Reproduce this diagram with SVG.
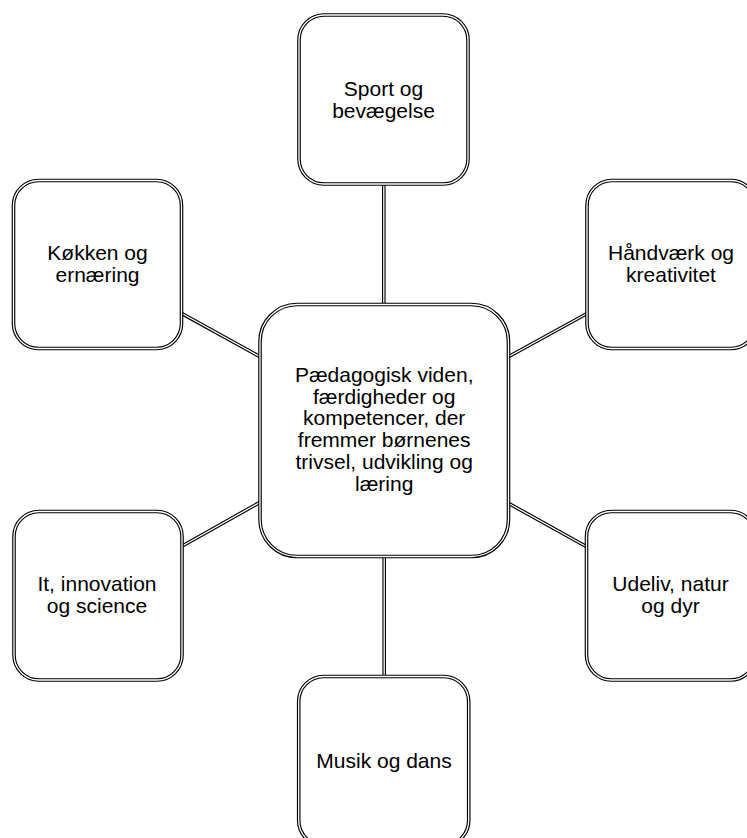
<svg xmlns="http://www.w3.org/2000/svg" width="747" height="838" viewBox="0 0 747 838">
<style>
.bo{fill:#fff;stroke:#000;stroke-width:3.6}
.bi{fill:none;stroke:#fff;stroke-width:1.3}
.co{stroke:#000;stroke-width:3.6;fill:none}
.ci{stroke:#fff;stroke-width:1.3;fill:none}
text{font-family:"Liberation Sans",Arial,sans-serif;font-size:21px;fill:#000;text-anchor:middle}
</style>
<rect width="747" height="838" fill="#fff"/>
<g id="connectors">
<line class="co" x1="383.8" y1="184" x2="383.8" y2="305"/><line class="ci" x1="383.8" y1="184" x2="383.8" y2="305"/>
<line class="co" x1="384.2" y1="556" x2="384.2" y2="677"/><line class="ci" x1="384.2" y1="556" x2="384.2" y2="677"/>
<line class="co" x1="180.5" y1="312.8" x2="260.5" y2="357"/><line class="ci" x1="180.5" y1="312.8" x2="260.5" y2="357"/>
<line class="co" x1="508" y1="357" x2="588" y2="313"/><line class="ci" x1="508" y1="357" x2="588" y2="313"/>
<line class="co" x1="180.5" y1="547" x2="260.5" y2="502"/><line class="ci" x1="180.5" y1="547" x2="260.5" y2="502"/>
<line class="co" x1="508" y1="503" x2="588" y2="547.5"/><line class="ci" x1="508" y1="503" x2="588" y2="547.5"/>
</g>
<g id="center">
<rect class="bo" x="260" y="304.5" width="248.5" height="252" rx="37"/>
<rect class="bi" x="260" y="304.5" width="248.5" height="252" rx="37"/>
<text x="384.2" y="381.7">Pædagogisk viden,</text>
<text x="384.2" y="403.5">færdigheder og</text>
<text x="384.2" y="425.3">kompetencer, der</text>
<text x="384.2" y="447.1">fremmer børnenes</text>
<text x="384.2" y="468.9">trivsel, udvikling og</text>
<text x="384.2" y="490.7">læring</text>
</g>
<g id="sport">
<rect class="bo" x="299" y="15" width="169" height="169" rx="25"/>
<rect class="bi" x="299" y="15" width="169" height="169" rx="25"/>
<text x="383.5" y="96">Sport og</text>
<text x="383.5" y="117.5">bevægelse</text>
</g>
<g id="koekken">
<rect class="bo" x="13.5" y="180.5" width="168" height="168" rx="25"/>
<rect class="bi" x="13.5" y="180.5" width="168" height="168" rx="25"/>
<text x="97.5" y="260">Køkken og</text>
<text x="97.5" y="281.7">ernæring</text>
</g>
<g id="haandvaerk">
<rect class="bo" x="587" y="180.5" width="169" height="168" rx="25"/>
<rect class="bi" x="587" y="180.5" width="169" height="168" rx="25"/>
<text x="671" y="260">Håndværk og</text>
<text x="671" y="281.7">kreativitet</text>
</g>
<g id="it">
<rect class="bo" x="14" y="511.5" width="168" height="168.5" rx="25"/>
<rect class="bi" x="14" y="511.5" width="168" height="168.5" rx="25"/>
<text x="97" y="590.7">It, innovation</text>
<text x="97" y="612.5">og science</text>
</g>
<g id="udeliv">
<rect class="bo" x="586.5" y="511.5" width="169" height="168.5" rx="25"/>
<rect class="bi" x="586.5" y="511.5" width="169" height="168.5" rx="25"/>
<text x="670.5" y="590.7">Udeliv, natur</text>
<text x="670.5" y="612.5">og dyr</text>
</g>
<g id="musik">
<rect class="bo" x="298.7" y="676.5" width="170" height="169" rx="25"/>
<rect class="bi" x="298.7" y="676.5" width="170" height="169" rx="25"/>
<text x="384" y="768.3">Musik og dans</text>
</g>
</svg>
